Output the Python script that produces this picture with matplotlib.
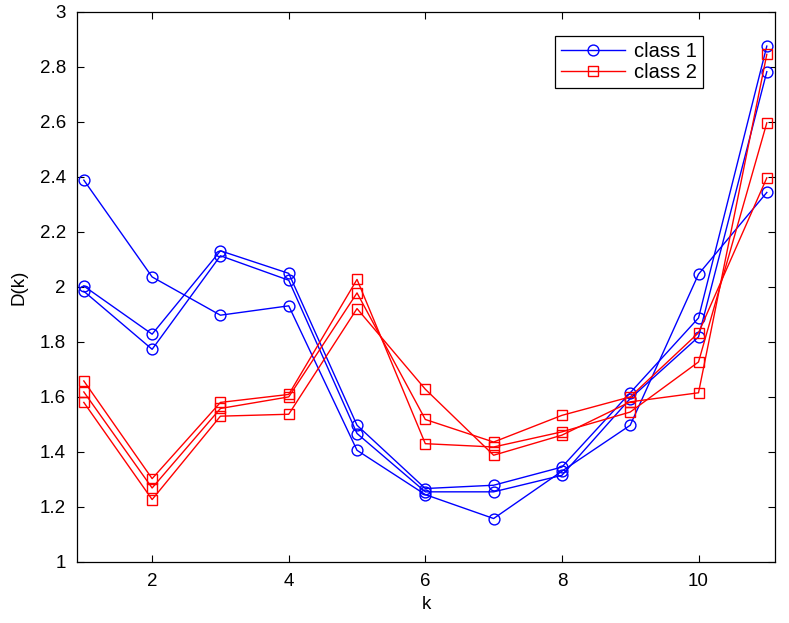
import matplotlib
matplotlib.use("Agg")
import matplotlib.pyplot as plt
from matplotlib.ticker import FuncFormatter

k = [1, 2, 3, 4, 5, 6, 7, 8, 9, 10, 11]

class1_a = [2.388, 2.036, 1.897, 1.931, 1.406, 1.245, 1.158, 1.330, 1.497, 2.046, 2.343]
class1_b = [2.003, 1.828, 2.131, 2.049, 1.497, 1.267, 1.279, 1.345, 1.615, 1.887, 2.875]
class1_c = [1.984, 1.773, 2.113, 2.024, 1.467, 1.255, 1.255, 1.315, 1.594, 1.818, 2.782]

class2_a = [1.580, 1.227, 1.530, 1.537, 1.921, 1.628, 1.388, 1.461, 1.582, 1.615, 2.845]
class2_b = [1.618, 1.269, 1.558, 1.600, 1.978, 1.518, 1.436, 1.533, 1.600, 1.833, 2.396]
class2_c = [1.658, 1.303, 1.580, 1.609, 2.027, 1.430, 1.418, 1.473, 1.545, 1.727, 2.596]

x_ticks = [2, 4, 6, 8, 10]
y_ticks = [1.0, 1.2, 1.4, 1.6, 1.8, 2.0, 2.2, 2.4, 2.6, 2.8, 3.0]
legend_labels = ["class 1", "class 2"]

plt.rcParams['font.family'] = ['Liberation Sans', 'DejaVu Sans']

fig = plt.figure(figsize=(7.89, 6.23), dpi=100)
ax = fig.add_axes([77 / 789, 1 - 562 / 623, (775 - 77) / 789, (562 - 11.7) / 623])

blue = "#0000ff"
red = "#ff0000"
lw = 1.0
handles = []
for i, s in enumerate([class1_a, class1_b, class1_c]):
    l, = ax.plot(k, s, color=blue, lw=lw, marker="o", ms=7.8, mfc="none",
                 mec=blue, mew=1.0)
    if i == 0:
        handles.append(l)
for i, s in enumerate([class2_a, class2_b, class2_c]):
    l, = ax.plot(k, s, color=red, lw=lw, marker="s", ms=7.8, mfc="none",
                 mec=red, mew=1.0)
    if i == 0:
        handles.append(l)

ax.set_xlim(0.9, 11.12)
ax.set_ylim(1, 3)
ax.set_xticks(x_ticks)
ax.set_yticks(y_ticks)
ax.yaxis.set_major_formatter(FuncFormatter(lambda v, p: ("%g" % round(v, 1))))
ax.tick_params(direction="in", length=5, width=0.8, top=True, right=True,
               labelsize=13.5, pad=8)
for sp in ax.spines.values():
    sp.set_linewidth(0.9)

ax.set_xlabel("k", fontsize=13.5, labelpad=4)
ax.set_ylabel("D(k)", fontsize=13.5, labelpad=9)

leg = ax.legend(handles, legend_labels, loc="upper right",
                bbox_to_anchor=(703 / 789, 1 - 35.7 / 623), bbox_transform=fig.transFigure,
                fontsize=14.5, fancybox=False, framealpha=1, edgecolor="black",
                handlelength=3.2, handletextpad=0.45, borderpad=0.3, labelspacing=0.1,
                borderaxespad=0)
leg.get_frame().set_linewidth(0.9)

fig.savefig("out.png", dpi=100)
